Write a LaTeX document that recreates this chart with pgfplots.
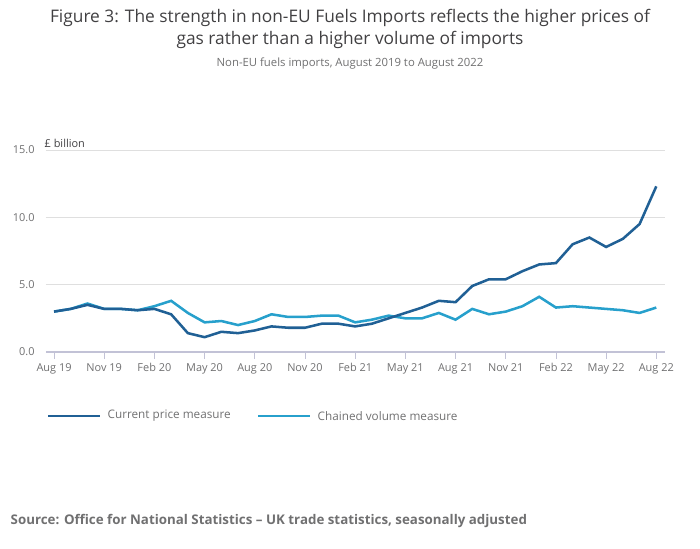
\documentclass[border=0pt]{standalone}
\usepackage{pgfplots}
\pgfplotsset{compat=1.18}
\usepackage{fontspec}
\setmainfont{Open Sans}
\definecolor{dk}{HTML}{206095}
\definecolor{lt}{HTML}{27A0CC}
\definecolor{tx}{HTML}{414042}
\definecolor{tk}{HTML}{707071}
\begin{document}
\begin{tikzpicture}[x=0.75pt,y=0.75pt]
\useasboundingbox (0,0) rectangle (700,549);
\begin{axis}[at={(46pt*0.75,197pt*0.75)},anchor=south west,scale only axis,
 width=464.25pt,height=151.5pt,
 xmin=-0.48,xmax=36.52,ymin=0,ymax=15,
 xtick={0,3,...,36},
 xticklabels={Aug 19,Nov 19,Feb 20,May 20,Aug 20,Nov 20,Feb 21,May 21,Aug 21,Nov 21,Feb 22,May 22,Aug 22},
 ytick={0,5,10,15},
 yticklabel={\pgfmathprintnumber[fixed,fixed zerofill,precision=1]{\tick}},
 /pgf/number format/assume math mode=true,
 ticklabel style={font=\fontsize{8.2}{10}\selectfont,text=tk},
 axis x line*=bottom, axis y line*=left,
 y axis line style={draw=none},
 x axis line style={draw=blue!20!gray!40,line width=0.8pt},
 xtick style={draw=blue!20!gray!40,line width=0.6pt},
 ytick style={draw=none},
 major tick length=5pt, tick align=outside,
 ymajorgrids, grid style={draw=gray!25,line width=0.6pt},
 clip=false]
\addplot[lt,line width=1.9pt] coordinates {(0,3.0)(1,3.2)(2,3.6)(3,3.2)(4,3.2)(5,3.1)(6,3.4)(7,3.8)(8,2.9)(9,2.2)(10,2.3)(11,2.0)(12,2.3)(13,2.8)(14,2.6)(15,2.6)(16,2.7)(17,2.7)(18,2.2)(19,2.4)(20,2.7)(21,2.5)(22,2.5)(23,2.9)(24,2.4)(25,3.2)(26,2.8)(27,3.0)(28,3.4)(29,4.1)(30,3.3)(31,3.4)(32,3.3)(33,3.2)(34,3.1)(35,2.9)(36,3.3)};
\addplot[dk,line width=1.9pt] coordinates {(0,3.0)(1,3.2)(2,3.5)(3,3.2)(4,3.2)(5,3.1)(6,3.2)(7,2.8)(8,1.4)(9,1.1)(10,1.5)(11,1.4)(12,1.6)(13,1.9)(14,1.8)(15,1.8)(16,2.1)(17,2.1)(18,1.9)(19,2.1)(20,2.5)(21,2.9)(22,3.3)(23,3.8)(24,3.7)(25,4.9)(26,5.4)(27,5.4)(28,6.0)(29,6.5)(30,6.6)(31,8.0)(32,8.5)(33,7.8)(34,8.4)(35,9.5)(36,12.3)};
\end{axis}
\node[anchor=west,text=tx,font=\fontsize{8.2}{10}\selectfont] at (40,406) {£ billion};
\node[align=center,text=tx,font=\fontsize{13}{16}\selectfont] at (350,520) {Figure 3: The strength in non-EU Fuels Imports reflects the higher prices of\\gas rather than a higher volume of imports};
\node[text=tk,font=\fontsize{8.5}{10}\selectfont] at (350,485) {Non-EU fuels imports, August 2019 to August 2022};
\draw[dk,line width=2.2pt] (48,133)--(100,133);
\node[anchor=west,text=tk,font=\fontsize{8.8}{10}\selectfont] at (103,133) {Current price measure};
\draw[lt,line width=2.2pt] (258,133)--(310,133);
\node[anchor=west,text=tk,font=\fontsize{8.8}{10}\selectfont] at (313,133) {Chained volume measure};
\node[anchor=west,text=tk,font=\bfseries\fontsize{10}{12}\selectfont] at (6,28) {Source: Office for National Statistics – UK trade statistics, seasonally adjusted};
\end{tikzpicture}
\end{document}
